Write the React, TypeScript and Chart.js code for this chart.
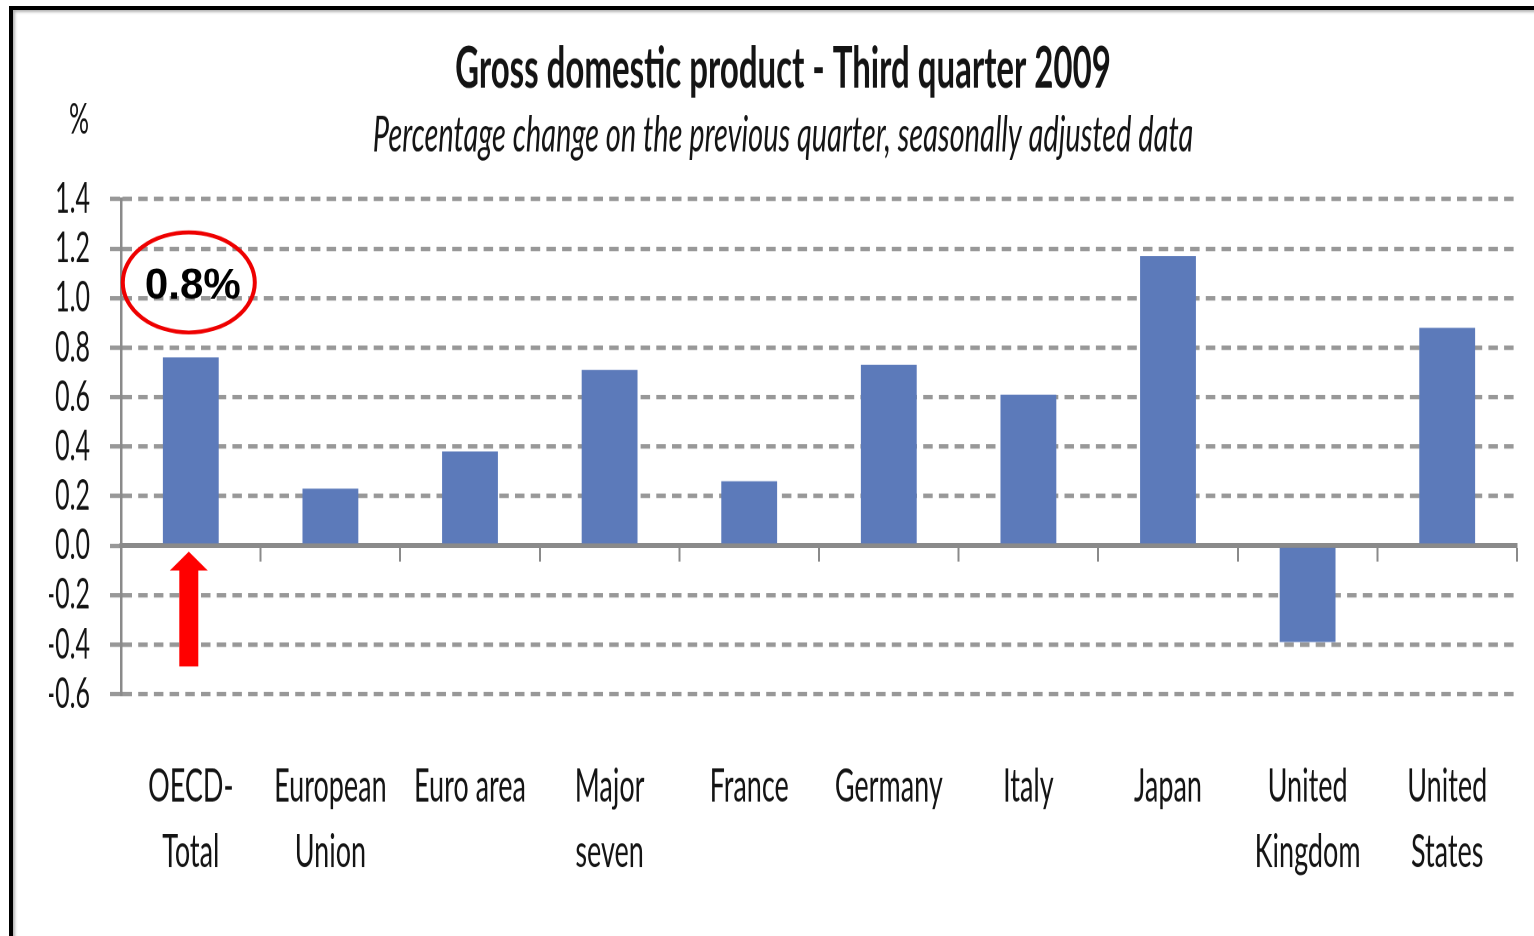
import React, { useEffect, useRef } from 'react';
import { Chart, registerables } from 'chart.js';

Chart.register(...registerables);

// ---- data ----
const categories: string[][] = [
  ['OECD-', 'Total'],
  ['European', 'Union'],
  ['Euro area'],
  ['Major', 'seven'],
  ['France'],
  ['Germany'],
  ['Italy'],
  ['Japan'],
  ['United', 'Kingdom'],
  ['United', 'States'],
];
const gdpChange: number[] = [0.76, 0.23, 0.38, 0.71, 0.26, 0.73, 0.61, 1.17, -0.39, 0.88];
const yMin = -0.6;
const yMax = 1.4;
const yStep = 0.2;
const titleText = 'Gross domestic product - Third quarter 2009';
const subtitleText = 'Percentage change on the previous quarter, seasonally adjusted data';
const unitLabel = '%';
const calloutText = '0.8%';

// ---- layout / style ----
const W = 1534;
const H = 550;
const S = 936 / H; // vertical stretch of the whole picture
const BAR = '#5c7aba';
const GRID = '#989898';
const AXIS = '#8a8a8a';
const TEXT = '#141414';

const annotationPlugin = {
  id: 'gdpAnnotations',
  afterDraw(chart: any) {
    const { ctx, chartArea, scales } = chart;
    const yScale = scales.y;
    const xScale = scales.x;

    // unit label above the value axis
    ctx.save();
    ctx.font = '25px Lato';
    ctx.fillStyle = TEXT;
    ctx.textAlign = 'center';
    ctx.textBaseline = 'middle';
    ctx.fillText(unitLabel, yScale.right - 42, chartArea.top - 46.6);
    ctx.restore();

    // red callout (drawn without the vertical stretch)
    ctx.save();
    ctx.scale(1, 1 / S);
    const cx = xScale.getPixelForValue(0) - 2;
    const barTop = yScale.getPixelForValue(gdpChange[0]) * S;
    const zero = yScale.getPixelForValue(0) * S;
    const cy = barTop - 75;

    ctx.beginPath();
    ctx.ellipse(cx, cy, 66, 50, 0, 0, Math.PI * 2);
    ctx.strokeStyle = '#ee0000';
    ctx.lineWidth = 4;
    ctx.stroke();

    ctx.font = 'bold 42px "Liberation Sans", Arial, sans-serif';
    ctx.fillStyle = '#000';
    ctx.textAlign = 'center';
    ctx.textBaseline = 'middle';
    ctx.fillText(calloutText, cx + 4, cy + 5);

    const tip = zero + 6;
    ctx.beginPath();
    ctx.moveTo(cx, tip);
    ctx.lineTo(cx + 19, tip + 19);
    ctx.lineTo(cx + 9.5, tip + 19);
    ctx.lineTo(cx + 9.5, tip + 115);
    ctx.lineTo(cx - 9.5, tip + 115);
    ctx.lineTo(cx - 9.5, tip + 19);
    ctx.lineTo(cx - 19, tip + 19);
    ctx.closePath();
    ctx.fillStyle = '#ff0000';
    ctx.fill();
    ctx.restore();
  },
};

export default function App() {
  const ref = useRef<HTMLCanvasElement>(null);

  useEffect(() => {
    if (!ref.current) return;
    const chart = new Chart(ref.current, {
      type: 'bar',
      data: {
        labels: categories,
        datasets: [
          {
            data: gdpChange,
            backgroundColor: BAR,
            borderWidth: 0,
            barPercentage: 0.4,
            categoryPercentage: 1,
          },
        ],
      },
      options: {
        responsive: false,
        animation: false,
        devicePixelRatio: 2,
        events: [],
        layout: { padding: { left: 49, right: 17, top: 0, bottom: 0 } },
        plugins: {
          legend: { display: false },
          tooltip: { enabled: false },
          title: {
            display: true,
            text: titleText,
            color: TEXT,
            font: { family: 'Lato', weight: 'bold', size: 33, lineHeight: 1.2 },
            padding: { top: 21.3, bottom: 0 },
          },
          subtitle: {
            display: true,
            text: subtitleText,
            color: TEXT,
            font: { family: 'Lato', style: 'italic', size: 29, lineHeight: 1.2 },
            padding: { top: 1.3, bottom: 20.0 },
          },
        },
        scales: {
          x: {
            type: 'category',
            position: 'bottom',
            offset: true,
            grid: { display: false, drawTicks: false, offset: true },
            border: { display: false },
            ticks: {
              color: TEXT,
              font: { family: 'Lato', size: 27, lineHeight: 1.415 },
              padding: 35.5,
              autoSkip: false,
              maxRotation: 0,
              minRotation: 0,
            },
            afterFit: (s: any) => {
              s.height = 142.2;
            },
          },
          x2: {
            type: 'category',
            position: { y: 0 },
            offset: true,
            z: 1,
            grid: {
              offset: true,
              drawOnChartArea: false,
              drawTicks: true,
              tickLength: 8,
              tickWidth: 2,
              tickColor: AXIS,
            },
            border: { display: true, color: AXIS, width: 3 },
            ticks: { display: false },
          },
          y: {
            type: 'linear',
            min: yMin,
            max: yMax,
            ticks: {
              stepSize: yStep,
              autoSkip: false,
              color: TEXT,
              font: { family: 'Lato', size: 25 },
              padding: 20,
              callback: (v: any) => Number(v).toFixed(1),
            },
            grid: {
              color: (c: any) => (c.tick && Math.abs(c.tick.value) < 1e-9 ? 'rgba(0,0,0,0)' : GRID),
              lineWidth: 2.6,
              drawTicks: true,
              tickLength: 11,
              tickWidth: 2.6,
              tickColor: GRID,
            },
            border: { display: true, color: AXIS, width: 2.5, dash: [9.5, 6.2] },
            afterFit: (s: any) => {
              s.width = 72;
            },
          },
        },
      },
      plugins: [annotationPlugin],
    } as any);

    let alive = true;
    const fonts: any = (document as any).fonts;
    if (fonts && fonts.load) {
      Promise.all([
        fonts.load('bold 33px Lato'),
        fonts.load('italic 29px Lato'),
        fonts.load('25px Lato'),
        fonts.load('bold 42px "Liberation Sans"'),
      ])
        .then(() => {
          if (alive) chart.update();
        })
        .catch(() => {});
    }
    return () => {
      alive = false;
      chart.destroy();
    };
  }, []);

  return (
    <div style={{ position: 'fixed', left: 0, top: 0, width: W, height: 936, overflow: 'hidden', background: '#fff' }}>
      <div
        style={{
          position: 'absolute',
          left: 9,
          top: 6,
          width: 1600,
          height: 1000,
          borderTop: '4px solid #000',
          borderLeft: '4px solid #000',
          boxShadow: 'inset 2px 2px 3px rgba(0,0,0,0.3)',
        }}
      />
      <div
        style={{
          position: 'absolute',
          left: 0,
          top: 0,
          width: W,
          height: H,
          transform: `scaleY(${S})`,
          transformOrigin: '0 0',
        }}
      >
        <canvas ref={ref} width={W} height={H} />
      </div>
    </div>
  );
}
